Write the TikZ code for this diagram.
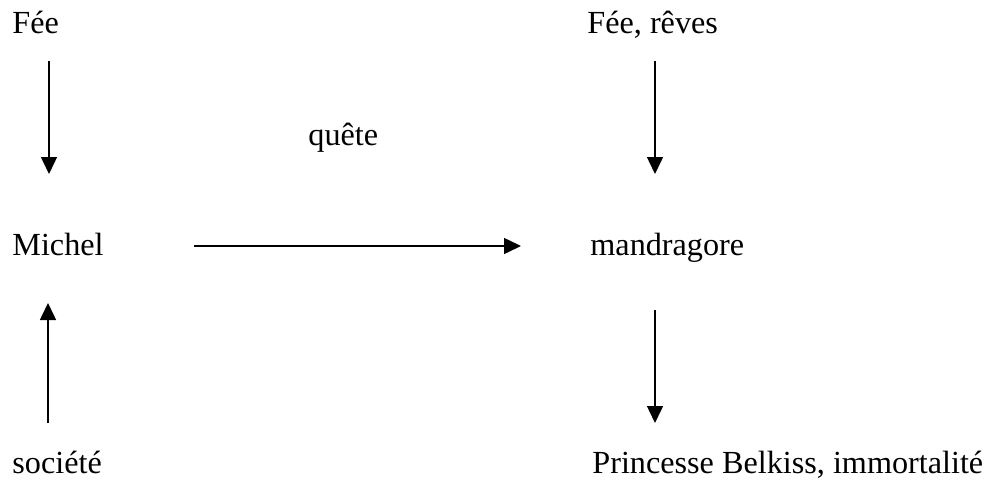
\documentclass[tikz,border=0pt]{standalone}
\usepackage{fontspec}
\setmainfont{Liberation Serif}
\usepackage{tikz}
\usetikzlibrary{arrows.meta,positioning}

\tikzset{
  lbl/.style={anchor=base west,inner sep=0pt,font=\fontsize{16.1}{19}\selectfont},
  arr/.style={line width=0.75pt,-{Triangle[length=8.5pt,width=8pt]}}
}

\begin{document}
\begin{tikzpicture}[x=0.5pt,y=-0.5pt]%
    \useasboundingbox (0,0) rectangle (990,482);
    % actants
    \node[lbl] (fee) at (12,33) {Fée};
    \node[lbl] (reves) at (587,33) {Fée, rêves};
    \node[lbl] (quete) at (308,145) {quête};
    \node[lbl] (michel) at (12,255) {Michel};
    \node[lbl] (mandra) at (590,255) {mandragore};
    \node[lbl] (societe) at (12,473) {société};
    \node[lbl] (belkiss) at (592,473) {Princesse Belkiss, immortalité};
    % arrow ends
    \coordinate (a1) at (49,61);   \coordinate (b1) at (49,174);
    \coordinate (a2) at (655,61);  \coordinate (b2) at (655,174);
    \coordinate (a3) at (194,246); \coordinate (b3) at (521,246);
    \coordinate (a4) at (48,423);  \coordinate (b4) at (48,303);
    \coordinate (a5) at (655,310); \coordinate (b5) at (655,423);
    \draw[arr] (a1) -- (b1);
    \draw[arr] (a2) -- (b2);
    \draw[arr] (a3) -- (b3);
    \draw[arr] (a4) -- (b4);
    \draw[arr] (a5) -- (b5);
\end{tikzpicture}
\end{document}
